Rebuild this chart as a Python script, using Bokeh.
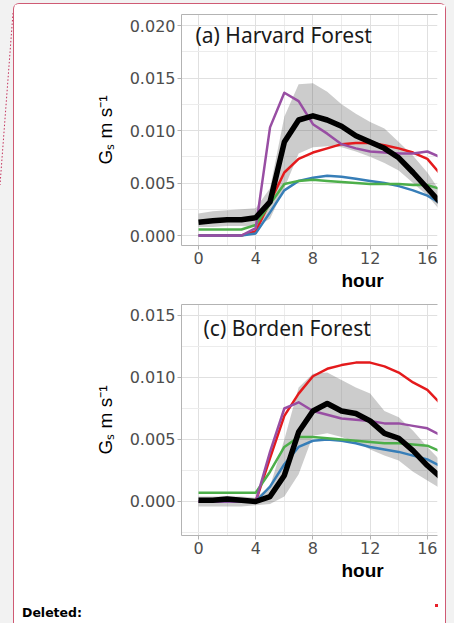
from bokeh.plotting import figure
from bokeh.models import Range1d, FixedTicker, LinearAxis, Label, Title, PrintfTickFormatter, Div
from bokeh.layouts import column, row
from bokeh.embed import file_html
from bokeh.resources import INLINE

hours = list(range(18))

# (a) Harvard Forest
hf_obs   = [0.00127, 0.0014, 0.0015, 0.0015, 0.0017, 0.0032, 0.0089, 0.0110, 0.0114, 0.0110, 0.0104, 0.0095, 0.0089, 0.0083, 0.0074, 0.0060, 0.0045, 0.0030]
hf_upper = [0.0021, 0.0023, 0.0024, 0.0025, 0.0026, 0.0045, 0.0113, 0.0144, 0.0145, 0.0137, 0.0125, 0.0116, 0.0108, 0.0102, 0.0089, 0.0076, 0.0060, 0.0040]
hf_lower = [0.0008, 0.0008, 0.0009, 0.0009, 0.0008, 0.0016, 0.0045, 0.0078, 0.0084, 0.0085, 0.0084, 0.0080, 0.0075, 0.0069, 0.0062, 0.0050, 0.0038, 0.0022]
hf_red    = [0, 0, 0, 0, 0.0004, 0.0032, 0.0060, 0.0073, 0.0079, 0.0083, 0.0087, 0.0088, 0.0088, 0.0086, 0.0083, 0.0079, 0.0073, 0.0057]
hf_blue   = [0, 0, 0, 0, 0.0002, 0.0022, 0.0043, 0.0052, 0.0055, 0.0057, 0.0056, 0.0054, 0.0052, 0.0050, 0.0047, 0.0043, 0.0038, 0.0030]
hf_green  = [0.00057, 0.00057, 0.00057, 0.00057, 0.0010, 0.0030, 0.0049, 0.0052, 0.0053, 0.0052, 0.0051, 0.0050, 0.0049, 0.0049, 0.0049, 0.0048, 0.0048, 0.0044]
hf_purple = [0, 0, 0, 0, 0.0007, 0.0103, 0.0136, 0.0128, 0.0106, 0.0097, 0.0087, 0.0083, 0.0080, 0.0079, 0.0078, 0.0078, 0.0080, 0.0074]

# (c) Borden Forest
bf_obs   = [0.0001, 0.0001, 0.0002, 0.0001, 0.0, 0.0004, 0.0021, 0.0056, 0.0073, 0.0079, 0.0073, 0.0071, 0.0065, 0.0055, 0.0051, 0.0041, 0.0029, 0.0019]
bf_upper = [0.0004, 0.0004, 0.0004, 0.0004, 0.0003, 0.0012, 0.0050, 0.0092, 0.0103, 0.0104, 0.0098, 0.0092, 0.0087, 0.0073, 0.0068, 0.0057, 0.0044, 0.0032]
bf_lower = [-0.0004, -0.0004, -0.0004, -0.0004, -0.0003, -0.0002, 0.0004, 0.0022, 0.0053, 0.0055, 0.0052, 0.0048, 0.0042, 0.0037, 0.0033, 0.0024, 0.0017, 0.0010]
bf_red    = [0, 0, 0, 0, 0, 0.0035, 0.0069, 0.0087, 0.0101, 0.0107, 0.0110, 0.0112, 0.0112, 0.0109, 0.0104, 0.0096, 0.0090, 0.0078]
bf_blue   = [0, 0, 0, 0, 0, 0.0012, 0.0030, 0.0044, 0.0049, 0.0050, 0.0049, 0.0047, 0.0044, 0.0042, 0.0040, 0.0037, 0.0034, 0.0028]
bf_green  = [0.0007, 0.0007, 0.0007, 0.0007, 0.0007, 0.0024, 0.0044, 0.0052, 0.0052, 0.0051, 0.0050, 0.0049, 0.0048, 0.0047, 0.0047, 0.0046, 0.0045, 0.0040]
bf_purple = [0, 0, 0, 0, 0, 0.0040, 0.0075, 0.0080, 0.0073, 0.0070, 0.0067, 0.0066, 0.0065, 0.0063, 0.0063, 0.0061, 0.0059, 0.0053]

x_major = [0, 4, 8, 12, 16, 20, 24]
x_minor = [2, 6, 10, 14, 18, 22]
ya_ticks = [0.0, 0.005, 0.010, 0.015, 0.020]
yc_ticks = [0.0, 0.005, 0.010, 0.015]

RED, BLUE, GREEN, PURPLE = "#e41a1c", "#377eb8", "#4daf4a", "#984ea3"
GRAYLINE = "#b3b3b3"
BOXRED = "#cf5a74"


def panel(title, tx, ty, ylo, yhi, yticks, obs, up, lo, red, blue, green, purple, height, mt, mb):
    p = figure(width=431, height=height, x_range=Range1d(-1.19, 16.71), y_range=Range1d(ylo, yhi),
               output_backend="svg", toolbar_location=None, title=None,
               min_border_left=167, min_border_right=8, min_border_top=mt, min_border_bottom=mb)
    p.outline_line_color = None
    p.background_fill_color = "white"
    p.border_fill_color = "white"

    # grid
    p.xgrid[0].ticker = FixedTicker(ticks=x_major, minor_ticks=x_minor)
    ymin = [t + 0.0025 for t in yticks] + [yticks[0] - 0.0025]
    p.ygrid[0].ticker = FixedTicker(ticks=yticks, minor_ticks=ymin)
    for g in (p.xgrid[0], p.ygrid[0]):
        g.grid_line_color = "#e0e0e0"
        g.grid_line_width = 1
        g.minor_grid_line_color = "#ececec"
        g.minor_grid_line_width = 1

    # axes
    xa = p.xaxis[0]
    xa.ticker = FixedTicker(ticks=x_major)
    ya = p.yaxis[0]
    ya.ticker = FixedTicker(ticks=yticks)
    ya.formatter = PrintfTickFormatter(format="%.3f")
    for a in (xa, ya):
        a.axis_line_color = GRAYLINE
        a.major_tick_line_color = GRAYLINE
        a.major_tick_in = 0
        a.major_tick_out = 4
        a.minor_tick_line_color = None
        a.major_label_text_font = "DejaVu Sans"
        a.major_label_text_font_size = "16px"
        a.major_label_text_color = "#4d4d4d"
        a.major_label_standoff = 2
    ya.axis_label = "G\u209b m s\u207b\u00b9"
    ya.axis_label_text_font = "Liberation Sans"
    ya.axis_label_text_font_size = "19px"
    ya.axis_label_text_font_style = "normal"
    ya.axis_label_text_color = "black"
    ya.axis_label_standoff = 11

    top = LinearAxis(ticker=FixedTicker(ticks=[]), axis_line_color=GRAYLINE,
                     major_tick_line_color=None, minor_tick_line_color=None)
    p.add_layout(top, "above")

    p.add_layout(Title(text="hour", align="left", offset=160, text_font="Liberation Sans",
                       text_font_size="19px", text_font_style="bold", text_color="black",
                       standoff=2), "below")

    # data
    p.varea(x=hours, y1=lo, y2=up, fill_color="#333333", fill_alpha=0.25)
    for ys, c in ((red, RED), (blue, BLUE), (green, GREEN), (purple, PURPLE)):
        p.line(hours, ys, line_color=c, line_width=2.5, line_join="round")
    p.line(hours, obs, line_color="black", line_width=5.5, line_join="round")

    p.add_layout(Label(x=tx, y=ty, text=title, text_font="Noto Sans", text_font_size="21px",
                       text_color="#1a1a1a", text_baseline="middle", text_align="left"))
    return p


pa = panel("(a) Harvard Forest", -0.21, 0.01905, -0.000952, 0.021048, ya_ticks,
           hf_obs, hf_upper, hf_lower, hf_red, hf_blue, hf_green, hf_purple, 295, 10, 54)
pc = panel("(c) Borden Forest", 0.35, 0.01403, -0.002742, 0.015887, yc_ticks,
           bf_obs, bf_upper, bf_lower, bf_red, bf_blue, bf_green, bf_purple, 301, 5, 65)

note = Div(text=('<div style="position:relative;width:431px;height:23px">'
                 '<div style="position:absolute;left:8px;top:6px;font:bold 12.5px \'DejaVu Sans\';'
                 'line-height:14px;color:#000">Deleted:</div>'
                 '<div style="position:absolute;left:421px;top:4px;width:3px;height:3px;background:#e8202a"></div>'
                 '</div>'),
           width=431, height=23, margin=0)

inner = column(pa, pc, note, styles={
    "background-color": "white",
    "border-top": "1px solid " + BOXRED,
    "border-left": "1px solid " + BOXRED,
    "border-right": "1px solid " + BOXRED,
    "border-top-left-radius": "6px",
    "border-top-right-radius": "6px",
})

connector = Div(text=('<svg width="13" height="200" xmlns="http://www.w3.org/2000/svg">'
                      '<line x1="13" y1="10" x2="0" y2="182" stroke="#c4305a" stroke-width="1" '
                      'stroke-dasharray="1.5 2"/></svg>'),
                width=13, height=200, margin=0)

page = row(connector, inner, styles={"background-color": "#f2f2f2", "padding-top": "3px",
                                     "padding-right": "8px"})

open("out.html", "w").write(file_html(page, INLINE))
